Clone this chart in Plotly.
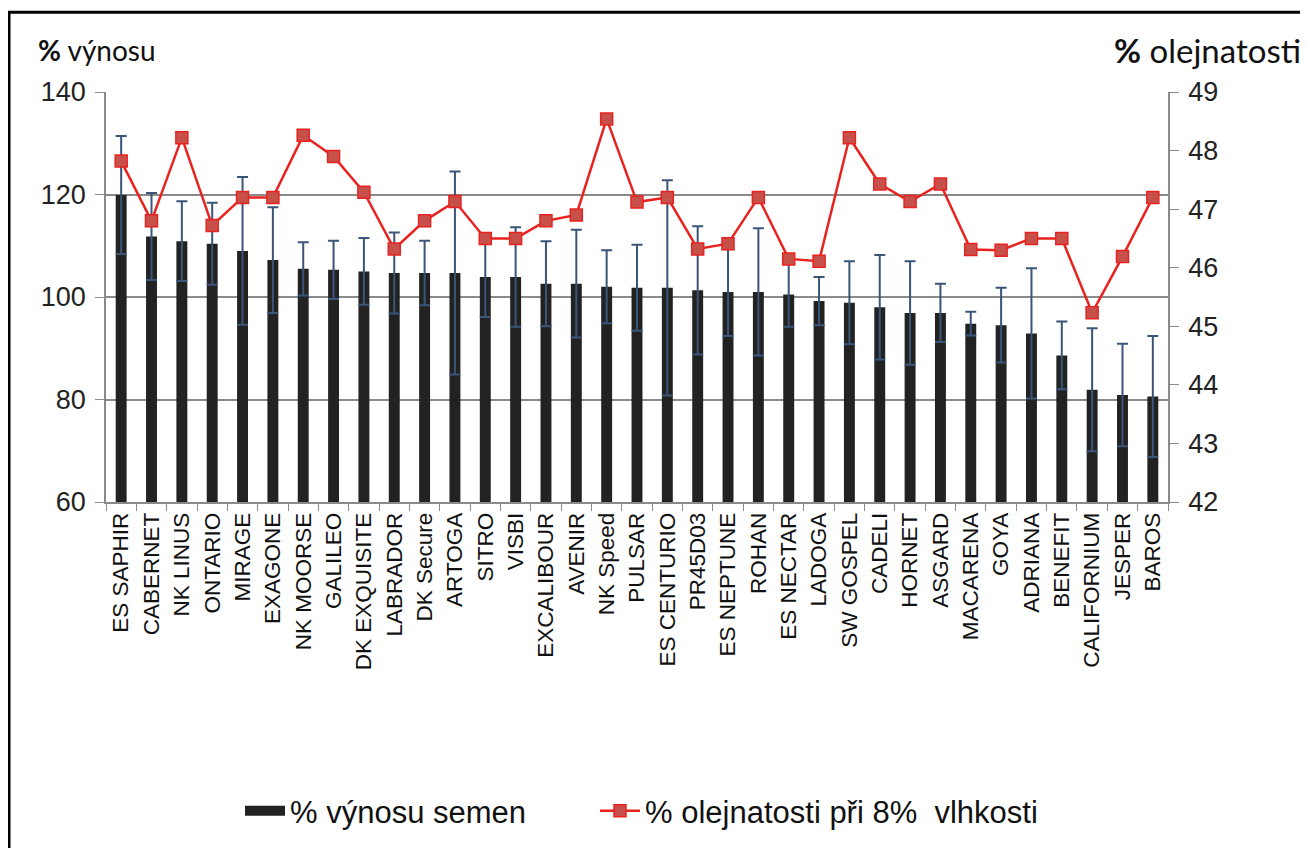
import plotly.graph_objects as go

categories = ["ES SAPHIR", "CABERNET", "NK LINUS", "ONTARIO", "MIRAGE", "EXAGONE",
              "NK MOORSE", "GALILEO", "DK EXQUISITE", "LABRADOR", "DK Secure", "ARTOGA",
              "SITRO", "VISBI", "EXCALIBOUR", "AVENIR", "NK Speed", "PULSAR",
              "ES CENTURIO", "PR45D03", "ES NEPTUNE", "ROHAN", "ES NECTAR", "LADOGA",
              "SW GOSPEL", "CADELI", "HORNET", "ASGARD", "MACARENA", "GOYA",
              "ADRIANA", "BENEFIT", "CALIFORNIUM", "JESPER", "BAROS"]

yield_pct = [119.9, 111.8, 110.9, 110.4, 109.0, 107.2,
             105.5, 105.3, 105.0, 104.7, 104.7, 104.7,
             103.9, 103.9, 102.6, 102.6, 102.0, 101.8,
             101.8, 101.3, 101.0, 101.0, 100.5, 99.2,
             98.9, 98.0, 96.9, 96.9, 94.8, 94.5,
             92.9, 88.6, 81.9, 80.9, 80.6]

yield_err = [11.5, 8.5, 7.8, 8.0, 14.4, 10.3,
             5.2, 5.7, 6.5, 7.9, 6.3, 19.8,
             7.8, 9.7, 8.3, 10.5, 7.1, 8.4,
             21.0, 12.5, 8.6, 12.4, 6.3, 4.7,
             8.1, 10.2, 10.1, 5.7, 2.3, 7.3,
             12.7, 6.6, 12.0, 10.0, 11.8]

oil_pct = [47.82, 46.80, 48.22, 46.72, 47.20, 47.20,
           48.26, 47.90, 47.29, 46.32, 46.80, 47.13,
           46.50, 46.50, 46.80, 46.90, 48.54, 47.12,
           47.20, 46.32, 46.41, 47.20, 46.15, 46.11,
           48.22, 47.43, 47.13, 47.43, 46.31, 46.30,
           46.50, 46.50, 45.23, 46.19, 47.20]

left_ticks = [60, 80, 100, 120, 140]
right_ticks = [42, 43, 44, 45, 46, 47, 48, 49]

# page body has an 8px margin; work in screen coordinates
OFF = 8
W, H = 1300, 840
L, R, T, B = 98, 140, 84, 345
pw, ph = W - L - R, H - T - B


def px(sx):
    return (sx - OFF - L) / pw


def py(sy):
    return (H - B - (sy - OFF)) / ph


legend_font = dict(family="Liberation Sans, Arial, sans-serif", size=31, color="#111111")

fig = go.Figure()
fig.add_trace(go.Bar(
    x=categories, y=yield_pct, name="% výnosu semen",
    marker=dict(color="#222222", line=dict(width=0)),
    width=0.36,
    error_y=dict(type="data", array=yield_err, visible=True,
                 color="#3b5578", thickness=2, width=5.5),
    yaxis="y", showlegend=False,
))
# legend-only entry giving the wide black key of the bar series
fig.add_trace(go.Scatter(
    x=[None], y=[None], name="% výnosu semen", mode="lines",
    line=dict(color="#222222", width=22), legend="legend", yaxis="y",
))
fig.add_trace(go.Scatter(
    x=categories, y=oil_pct, name="% olejnatosti při 8%  vlhkosti",
    mode="lines+markers",
    line=dict(color="#e8231f", width=2.5),
    marker=dict(symbol="square", size=12, color="#c8504a",
                line=dict(color="#e8231f", width=1.5)),
    yaxis="y2", legend="legend2",
))

tick_font = dict(family="Liberation Sans, Arial, sans-serif", size=27, color="#222222")

fig.update_layout(
    width=W, height=H,
    margin=dict(l=L, r=R, t=T, b=B),
    paper_bgcolor="white", plot_bgcolor="white",
    showlegend=True,
    legend=dict(orientation="h", x=px(240), y=py(811), xanchor="left", yanchor="middle",
                font=legend_font, itemwidth=40, bgcolor="rgba(0,0,0,0)"),
    legend2=dict(orientation="h", x=px(595), y=py(811), xanchor="left", yanchor="middle",
                 font=legend_font, itemwidth=40, bgcolor="rgba(0,0,0,0)"),
    xaxis=dict(
        type="category", categoryorder="array", categoryarray=categories,
        tickangle=-90, tickfont=dict(family="Liberation Sans, Arial, sans-serif", size=22.5, color="#111111"),
        showline=True, linecolor="#8a8a8a", linewidth=1.5,
        ticks="outside", tickson="boundaries", ticklen=7, tickcolor="#8a8a8a",
        showgrid=False, mirror=False, range=[-0.5, len(categories) - 0.5],
    ),
    yaxis=dict(
        range=[60, 140], tickvals=left_ticks, tickfont=tick_font,
        showgrid=True, gridcolor="#8a8a8a", gridwidth=1.5,
        showline=True, linecolor="#8a8a8a", linewidth=1.5,
        ticks="outside", ticklen=9, tickcolor="#8a8a8a",
        zeroline=False, ticklabelstandoff=4,
    ),
    yaxis2=dict(
        range=[42, 49], tickvals=right_ticks, tickfont=tick_font,
        overlaying="y", side="right",
        showgrid=False, showline=True, linecolor="#8a8a8a", linewidth=1.5,
        ticks="outside", ticklen=9, tickcolor="#8a8a8a",
        zeroline=False, ticklabelstandoff=4,
    ),
    annotations=[
        dict(text="<b>%</b> výnosu", xref="paper", yref="paper",
             x=px(36), y=py(50), xanchor="left", yanchor="middle", showarrow=False,
             font=dict(family="Lato, Liberation Sans, sans-serif", size=28, color="#111111")),
        dict(text="<b>%</b> olejnatosti", xref="paper", yref="paper",
             x=px(1112), y=py(50), xanchor="left", yanchor="middle", showarrow=False,
             font=dict(family="Lato, Liberation Sans, sans-serif", size=33, color="#111111")),
    ],
    shapes=[
        dict(type="line", xref="paper", yref="paper", x0=px(9), x1=px(9), y0=py(12), y1=py(870),
             line=dict(color="black", width=3)),
        dict(type="line", xref="paper", yref="paper", x0=px(8), x1=px(1307), y0=py(12), y1=py(12),
             line=dict(color="black", width=3)),
        dict(type="line", xref="paper", yref="paper", x0=px(1306), x1=px(1306), y0=py(12), y1=py(870),
             line=dict(color="black", width=3)),
    ],
)

fig.write_html("out.html")
